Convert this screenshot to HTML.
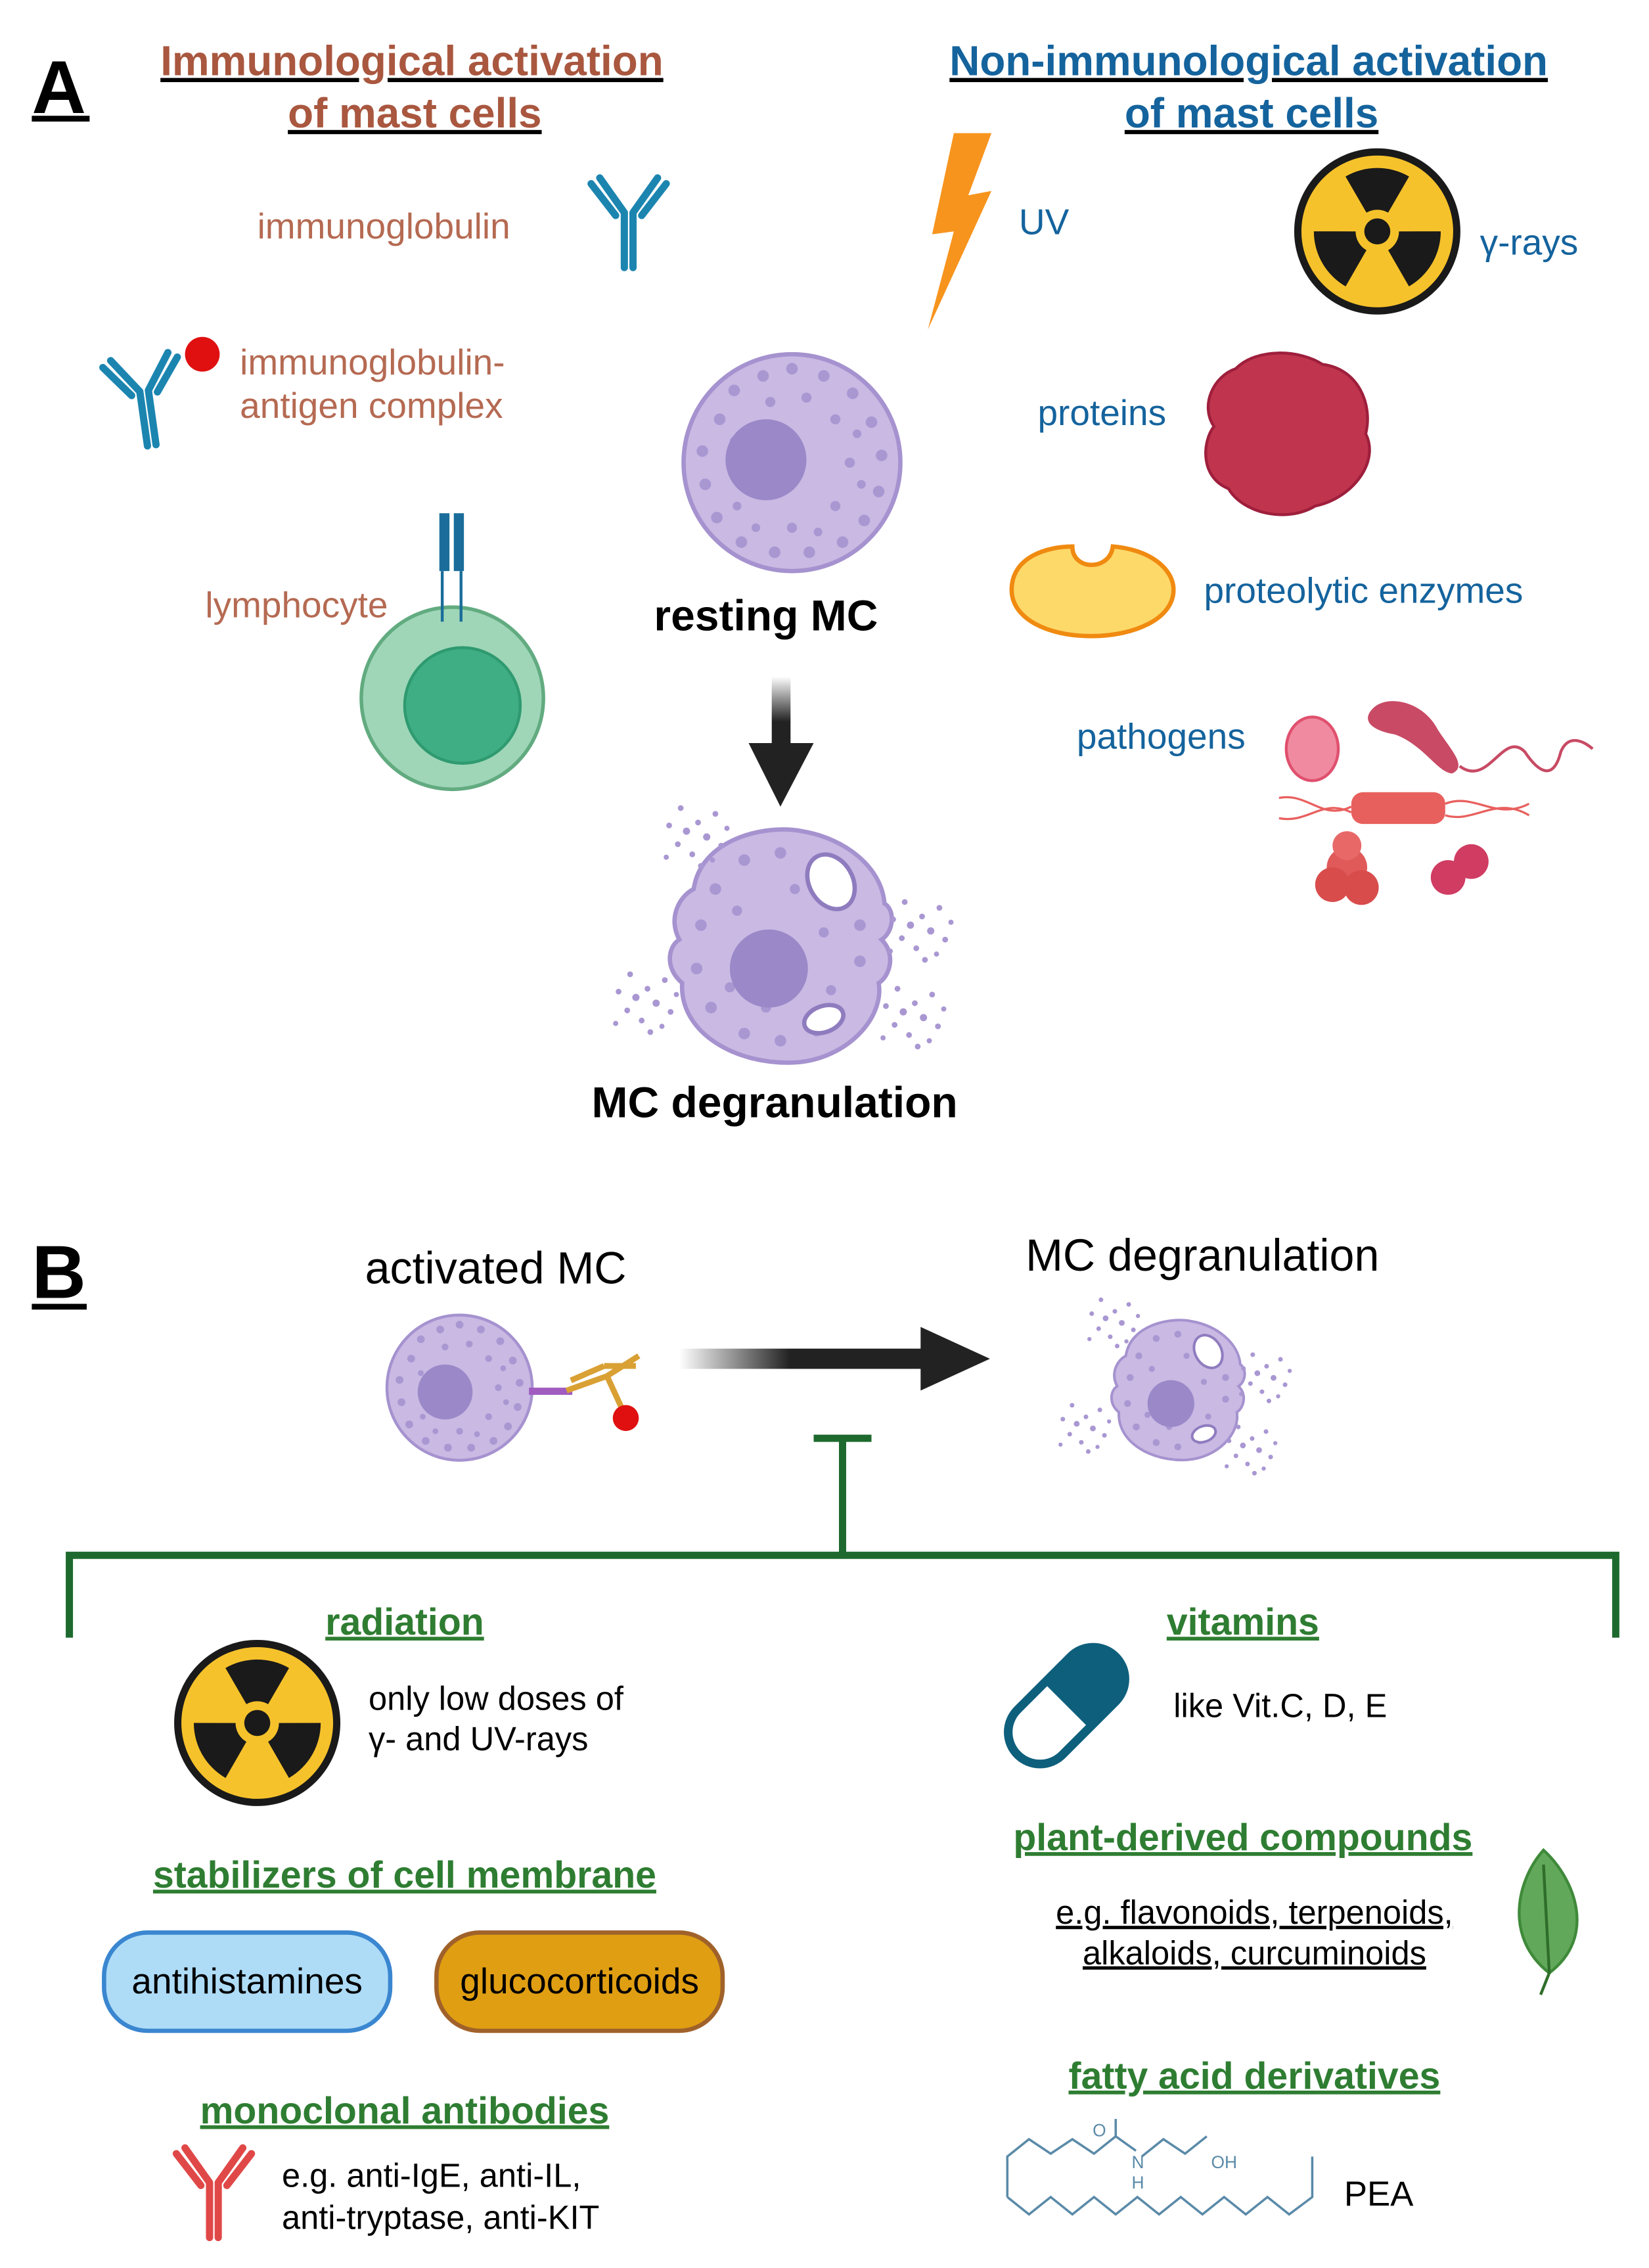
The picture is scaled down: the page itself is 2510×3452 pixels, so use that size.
<!DOCTYPE html>
<html><head><meta charset="utf-8"><style>
html,body{margin:0;padding:0;background:#fff}
svg{display:block}
text{font-family:"Liberation Sans",sans-serif}
</style></head><body>
<svg width="2510" height="3452" viewBox="0 0 1141 1569" xmlns="http://www.w3.org/2000/svg">
<defs>
<g id="rad">
<circle r="55" fill="#f6c22b" stroke="#1a1a1a" stroke-width="5"/>
<g fill="#1a1a1a">
<path id="sec" d="M -22,-38 A44 44 0 0 1 22,-38 L7.5,-13 A15 15 0 0 0 -7.5,-13 Z"/>
<use href="#sec" transform="rotate(120)"/>
<use href="#sec" transform="rotate(240)"/>
<circle r="9"/>
</g>
</g>
<g id="ab" fill="none" stroke-linecap="round">
<path d="M-3,0 V-38 M3,0 V-38 M-3,-38 L-20,-62 M-9,-36 L-26,-58 M3,-38 L20,-62 M9,-36 L26,-58" stroke-width="5"/>
</g>
<g id="cell">
<circle r="75" fill="#c9b9e3" stroke="#a592cf" stroke-width="3"/>
<g fill="#a997d2">
<circle cx="-50" cy="-30" r="4"/><circle cx="-40" cy="-50" r="4"/><circle cx="-20" cy="-60" r="4"/><circle cx="0" cy="-65" r="4"/><circle cx="22" cy="-60" r="4"/><circle cx="42" cy="-48" r="4"/><circle cx="55" cy="-28" r="4"/><circle cx="62" cy="-5" r="4"/><circle cx="60" cy="20" r="4"/><circle cx="50" cy="40" r="4"/><circle cx="35" cy="55" r="4"/><circle cx="12" cy="62" r="4"/><circle cx="-12" cy="62" r="4"/><circle cx="-35" cy="55" r="4"/><circle cx="-52" cy="38" r="4"/><circle cx="-60" cy="15" r="4"/><circle cx="-62" cy="-8" r="4"/>
<circle cx="30" cy="-30" r="3.5"/><circle cx="40" cy="0" r="3.5"/><circle cx="30" cy="30" r="3.5"/><circle cx="0" cy="45" r="3.5"/><circle cx="10" cy="-45" r="3.5"/><circle cx="-15" cy="-42" r="3.5"/><circle cx="45" cy="-20" r="3"/><circle cx="48" cy="15" r="3"/><circle cx="-40" cy="-15" r="3"/><circle cx="-38" cy="30" r="3"/><circle cx="18" cy="48" r="3"/><circle cx="-25" cy="45" r="3"/>
</g>
</g>
<g id="dots" fill="#a997d2">
<circle cx="0" cy="0" r="2.5"/><circle cx="8" cy="-6" r="2"/><circle cx="14" cy="4" r="2.5"/><circle cx="-6" cy="9" r="2"/><circle cx="20" cy="-12" r="2"/><circle cx="4" cy="16" r="2"/><circle cx="-12" cy="-4" r="2"/><circle cx="24" cy="10" r="2"/><circle cx="10" cy="24" r="2"/><circle cx="-4" cy="-16" r="2"/><circle cx="18" cy="20" r="1.8"/><circle cx="-14" cy="18" r="1.8"/><circle cx="28" cy="-2" r="1.8"/>
</g>
<g id="degr">
<path d="M-60,-40 C-55,-75 -10,-85 15,-80 C45,-75 70,-55 72,-30 C80,-25 78,-10 70,-5 C80,5 76,20 68,25 C72,50 45,78 10,80 C-30,82 -70,60 -68,25 C-80,15 -78,0 -70,-5 C-78,-20 -70,-35 -60,-40 Z" fill="#c9b9e3" stroke="#a592cf" stroke-width="3"/>
<g fill="#a997d2"><circle cx="-45" cy="-40" r="4"/><circle cx="-25" cy="-60" r="4"/><circle cx="0" cy="-65" r="4"/><circle cx="-55" cy="-15" r="4"/><circle cx="-58" cy="15" r="4"/><circle cx="-48" cy="42" r="4"/><circle cx="-25" cy="60" r="4"/><circle cx="0" cy="65" r="4"/><circle cx="25" cy="58" r="4"/><circle cx="55" cy="10" r="4"/><circle cx="55" cy="-15" r="4"/><circle cx="30" cy="-10" r="3.5"/><circle cx="-30" cy="-25" r="3.5"/><circle cx="-35" cy="28" r="3.5"/><circle cx="35" cy="30" r="3.5"/><circle cx="10" cy="-40" r="3.5"/><circle cx="-10" cy="42" r="3.5"/></g>
<circle cx="-8" cy="15" r="27" fill="#9a88c8"/>
<ellipse cx="35" cy="-45" rx="15" ry="20" transform="rotate(-30 35 -45)" fill="#fff" stroke="#8f7cbf" stroke-width="3"/>
<ellipse cx="30" cy="50" rx="14" ry="9" transform="rotate(-20 30 50)" fill="#fff" stroke="#8f7cbf" stroke-width="3"/>
</g>
<linearGradient id="gv" x1="0" y1="0" x2="0" y2="1"><stop offset="0" stop-color="#fff"/><stop offset="0.6" stop-color="#222"/></linearGradient>
<linearGradient id="gh" x1="0" y1="0" x2="1" y2="0"><stop offset="0" stop-color="#fff"/><stop offset="0.45" stop-color="#222"/></linearGradient>
</defs>

<!-- Panel A -->
<text x="22" y="78" font-size="52" font-weight="bold" fill="#000">A</text>
<rect x="22" y="80" width="40" height="4" fill="#000"/>
<g font-size="29" font-weight="bold" text-anchor="middle" text-decoration="underline">
<text x="285" y="52" fill="#a9573f">Immunological activation</text>
<text x="287" y="88" fill="#a9573f">of mast cells</text>
<text x="864" y="52" fill="#14639d">Non-immunological activation</text>
<text x="866" y="88" fill="#14639d">of mast cells</text>
</g>

<text x="178" y="165" font-size="25" fill="#b56a52">immunoglobulin</text>
<use href="#ab" transform="translate(435,185)" stroke="#1b85b0"/>
<use href="#ab" transform="translate(105,308) rotate(-8)" stroke="#1b85b0"/>
<circle cx="140" cy="245" r="12" fill="#e01010"/>
<text x="166" y="259" font-size="25" fill="#b56a52">immunoglobulin-</text>
<text x="166" y="289" font-size="25" fill="#b56a52">antigen complex</text>
<text x="142" y="427" font-size="25" fill="#b56a52">lymphocyte</text>
<circle cx="313" cy="483" r="63" fill="#9fd6b8" stroke="#62ab80" stroke-width="2.5"/>
<circle cx="320" cy="488" r="40" fill="#3fae84" stroke="#2f9a70" stroke-width="2"/>
<rect x="304" y="355" width="7" height="40" fill="#1a6d9a"/><rect x="314" y="355" width="7" height="40" fill="#1a6d9a"/>
<rect x="305" y="395" width="2" height="35" fill="#1a6d9a"/><rect x="318" y="395" width="2" height="35" fill="#1a6d9a"/>

<use href="#cell" transform="translate(548,320)"/>
<circle cx="530" cy="318" r="28" fill="#9a88c8"/>
<text x="530" y="436" font-size="30" font-weight="bold" text-anchor="middle">resting MC</text>
<rect x="534" y="468" width="13" height="52" fill="url(#gv)"/>
<polygon points="518,514 563,514 540,558" fill="#222"/>
<use href="#degr" transform="translate(540,655)"/>
<use href="#dots" transform="translate(475,575)"/><use href="#dots" transform="translate(440,690)"/><use href="#dots" transform="translate(630,640)"/><use href="#dots" transform="translate(625,700)"/>
<text x="536" y="773" font-size="30" font-weight="bold" text-anchor="middle">MC degranulation</text>

<polygon points="660,92 686,92 670,135 686,132 642,228 660,160 645,162" fill="#f7941d"/>
<text x="705" y="162" font-size="25" fill="#14639d">UV</text>
<use href="#rad" transform="translate(953,160)"/>
<text x="1024" y="176" font-size="25" fill="#14639d">γ-rays</text>
<text x="718" y="294" font-size="25" fill="#14639d">proteins</text>
<path d="M855,255 C870,240 900,242 915,252 C940,255 950,280 945,300 C955,320 935,345 910,350 C890,362 860,355 850,338 C830,330 832,305 840,295 C830,280 840,260 855,255 Z" fill="#c0344e" stroke="#9e1f3c" stroke-width="2"/>
<path d="M700,408 C700,385 725,378 742,378 C742,395 768,395 770,378 C795,380 812,393 812,408 C812,428 785,440 755,440 C725,440 700,428 700,408 Z" fill="#fdd96a" stroke="#f08a10" stroke-width="3"/>
<text x="833" y="417" font-size="25" fill="#14639d">proteolytic enzymes</text>
<text x="745" y="518" font-size="25" fill="#14639d">pathogens</text>
<ellipse cx="908" cy="518" rx="18" ry="22" fill="#f08aa0" stroke="#e0506e" stroke-width="2"/>
<path d="M950,490 C960,480 985,485 995,505 C1005,520 1015,530 1005,535 C995,535 985,515 965,508 C948,505 942,498 950,490 Z" fill="#c84a64"/>
<path d="M1010,530 C1030,545 1040,505 1055,520 C1065,535 1075,540 1080,520 C1085,508 1095,512 1102,518" fill="none" stroke="#c84a64" stroke-width="2"/>
<rect x="935" y="548" width="65" height="22" rx="8" fill="#e8605e"/>
<path d="M885,552 C905,548 915,568 935,558 M885,566 C905,570 915,552 935,562 M1000,556 C1020,548 1035,568 1058,556 M1000,564 C1020,570 1035,550 1058,564" fill="none" stroke="#e8605e" stroke-width="1.5"/>
<circle cx="932" cy="600" r="14" fill="#e05a5a"/><circle cx="922" cy="612" r="12" fill="#d84c4c"/><circle cx="942" cy="614" r="12" fill="#d84c4c"/><circle cx="932" cy="585" r="10" fill="#e86868"/>
<circle cx="1002" cy="607" r="12" fill="#d03c62"/><circle cx="1018" cy="596" r="12" fill="#d03c62"/>

<!-- Panel B -->
<text x="22" y="898" font-size="52" font-weight="bold">B</text>
<rect x="22" y="902" width="38" height="4" fill="#000"/>
<text x="343" y="888" font-size="31" text-anchor="middle">activated MC</text>
<text x="832" y="879" font-size="31" text-anchor="middle">MC degranulation</text>
<g transform="translate(318,960) scale(0.67)"><use href="#cell"/></g>
<circle cx="308" cy="963" r="19" fill="#9a88c8"/>
<rect x="366" y="960" width="30" height="5" fill="#a15cc0"/>
<path d="M392,962 L420,952 M395,955 L418,945 M420,952 L432,978 M418,945 L440,945 M420,952 L442,938" stroke="#d9a034" stroke-width="4" fill="none"/>
<circle cx="433" cy="981" r="9" fill="#e01010"/>
<rect x="470" y="933" width="170" height="14" fill="url(#gh)"/>
<polygon points="637,918 685,940 637,962" fill="#222"/>
<g transform="translate(815,962) scale(0.6)"><use href="#degr"/></g>
<use href="#dots" transform="translate(765,912) scale(0.8)"/><use href="#dots" transform="translate(745,985) scale(0.8)"/><use href="#dots" transform="translate(870,950) scale(0.8)"/><use href="#dots" transform="translate(860,1000) scale(0.8)"/>

<g stroke="#1e6a2e" stroke-width="5" fill="none">
<path d="M563,995 H603 M583,995 V1076"/>
<path d="M48,1133 V1076 H1118 V1133"/>
</g>
<g font-size="26" font-weight="bold" fill="#2e7d32" text-anchor="middle" text-decoration="underline">
<text x="280" y="1131">radiation</text>
<text x="280" y="1306">stabilizers of cell membrane</text>
<text x="280" y="1469">monoclonal antibodies</text>
<text x="860" y="1131">vitamins</text>
<text x="860" y="1280">plant-derived compounds</text>
<text x="868" y="1445">fatty acid derivatives</text>
</g>
<use href="#rad" transform="translate(178,1192)"/>
<text x="255" y="1183" font-size="23">only low doses of</text>
<text x="255" y="1211" font-size="23">γ- and UV-rays</text>
<rect x="72" y="1337" width="198" height="68" rx="30" fill="#aedcf7" stroke="#3a86d0" stroke-width="3"/>
<text x="171" y="1379" font-size="25" text-anchor="middle">antihistamines</text>
<rect x="302" y="1337" width="198" height="68" rx="30" fill="#e09e12" stroke="#a0622a" stroke-width="3"/>
<text x="401" y="1379" font-size="25" text-anchor="middle">glucocorticoids</text>
<use href="#ab" transform="translate(148,1548)" stroke="#e04848"/>
<text x="195" y="1513" font-size="23">e.g. anti-IgE, anti-IL,</text>
<text x="195" y="1542" font-size="23">anti-tryptase, anti-KIT</text>

<g transform="translate(738,1180) rotate(45)">
<rect x="-22" y="-48" width="44" height="96" rx="22" fill="#fff" stroke="#0e5f7c" stroke-width="6"/>
<path d="M-22,0 V-26 A22 22 0 0 1 22,-26 V0 Z" fill="#0e5f7c"/>
</g>
<text x="812" y="1188" font-size="23">like Vit.C, D, E</text>
<g font-size="23" text-anchor="middle" text-decoration="underline">
<text x="868" y="1331">e.g. flavonoids, terpenoids,</text>
<text x="868" y="1359">alkaloids, curcuminoids</text>
</g>
<path d="M1068,1280 C1090,1300 1105,1340 1072,1365 C1040,1340 1050,1300 1068,1280 Z" fill="#62a85a" stroke="#3f8a3a" stroke-width="2"/>
<path d="M1068,1290 L1072,1365 L1066,1380" stroke="#2f6e2a" stroke-width="2" fill="none"/>
<g stroke="#5a8aa8" stroke-width="1.6" fill="none">
<path d="M697,1520 V1492 L712,1480 L727,1490 L742,1480 L757,1490 L772,1478 L786,1488 M772,1478 V1466"/>
<path d="M790,1492 L805,1480 L820,1490 L835,1478"/>
<path d="M697,1520 L712,1532 L727,1520 L742,1532 L757,1520 L772,1532 L787,1520 L802,1532 L817,1520 L832,1532 L847,1520 L862,1532 L877,1520 L892,1532 L908,1520 V1492"/>
</g>
<text x="756" y="1478" font-size="12" fill="#5a8aa8">O</text>
<text x="783" y="1500" font-size="12" fill="#5a8aa8">N</text>
<text x="783" y="1514" font-size="12" fill="#5a8aa8">H</text>
<text x="838" y="1500" font-size="12" fill="#5a8aa8">OH</text>
<text x="930" y="1526" font-size="24">PEA</text>
</svg>
</body></html>
